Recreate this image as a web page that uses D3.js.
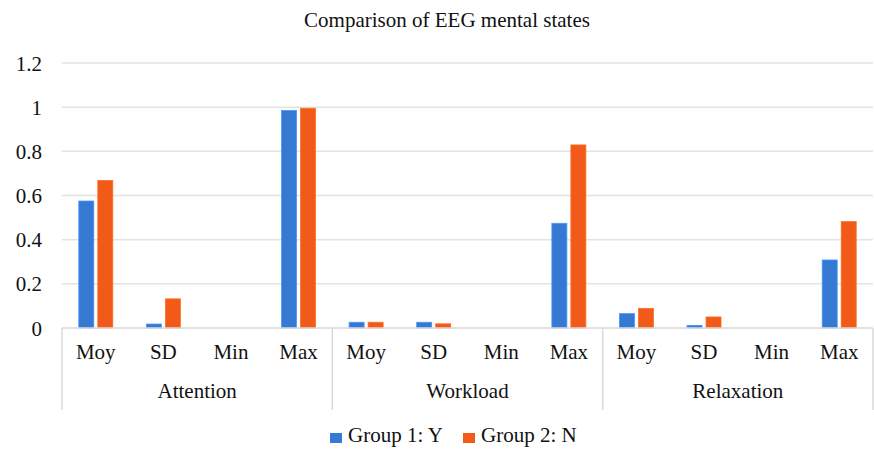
<!DOCTYPE html>
<html>
<head>
<meta charset="utf-8">
<script src="https://cdn.jsdelivr.net/npm/d3@7"></script>
<style>
  html, body { margin: 0; padding: 0; background: #fff; }
</style>
</head>
<body>
<svg id="chart" width="874" height="450"></svg>
<script>
// Mental state groups and the statistics shown within each
const states = ["Attention", "Workload", "Relaxation"];
const stats = ["Moy", "SD", "Min", "Max"];
const seriesNames = ["Group 1: Y", "Group 2: N"];

// Values per state, in stats order
const group1 = [
  [0.575, 0.018, 0, 0.985],   // Attention
  [0.026, 0.026, 0, 0.474],   // Workload
  [0.065, 0.012, 0, 0.308]    // Relaxation
];
const group2 = [
  [0.668, 0.132, 0, 0.995],
  [0.026, 0.019, 0, 0.829],
  [0.089, 0.050, 0, 0.482]
];
const yTicks = [0, 0.2, 0.4, 0.6, 0.8, 1, 1.2];
const colors = ["#3679d3", "#f25a1a"];

const FONT = "Liberation Serif";
const svg = d3.select("#chart");
const plotLeft = 62, plotRight = 873, plotTop = 63, plotBottom = 328;

const y = d3.scaleLinear().domain([0, 1.2]).range([plotBottom, plotTop]);

// one slot per state/stat pair
const keys = [];
states.forEach(s => stats.forEach(st => keys.push(s + "|" + st)));
const x0 = d3.scaleBand().domain(keys).range([plotLeft, plotRight]).padding(0);
const xs = d3.scaleBand().domain(states).range([plotLeft, plotRight]).padding(0);
const bw = x0.bandwidth();
const x1 = d3.scaleBand().domain(seriesNames)
  .range([bw / 2 - 17, bw / 2 + 17]).paddingInner(0.2105);

// shared text helper: every label is a direct child of the svg
function label(x, yy, txt, anchor) {
  return svg.append("text")
    .attr("x", x).attr("y", yy)
    .attr("text-anchor", anchor || "middle")
    .attr("font-family", FONT)
    .style("font-family", "'Liberation Serif', 'Times New Roman', serif")
    .attr("font-size", 21)
    .attr("fill", "#111")
    .text(txt);
}

// gridlines
svg.append("g").selectAll("line")
  .data(yTicks.slice(1)).join("line")
  .attr("x1", plotLeft).attr("x2", plotRight)
  .attr("y1", d => y(d)).attr("y2", d => y(d))
  .attr("stroke", "#e3e3e3").attr("stroke-width", 1.5);

// bars
const rows = [];
states.forEach((s, si) => stats.forEach((st, ti) => {
  rows.push({ key: s + "|" + st, series: seriesNames[0], v: group1[si][ti] });
  rows.push({ key: s + "|" + st, series: seriesNames[1], v: group2[si][ti] });
}));
svg.append("g").selectAll("rect")
  .data(rows.filter(d => d.v > 0)).join("rect")
  .attr("x", d => x0(d.key) + x1(d.series))
  .attr("width", x1.bandwidth())
  .attr("y", d => y(d.v))
  .attr("height", d => y(0) - y(d.v))
  .attr("fill", d => colors[seriesNames.indexOf(d.series)])
  .attr("stroke", d => d3.color(colors[seriesNames.indexOf(d.series)]).brighter(0.6))
  .attr("stroke-width", 0.8);

// baseline
svg.append("line")
  .attr("x1", plotLeft).attr("x2", plotRight)
  .attr("y1", y(0)).attr("y2", y(0))
  .attr("stroke", "#d9d9d9").attr("stroke-width", 1.5);

// group separators
const seps = states.map(s => xs(s)).concat([plotRight]);
svg.append("g").selectAll("line")
  .data(seps).join("line")
  .attr("x1", d => d).attr("x2", d => d)
  .attr("y1", y(0)).attr("y2", 410)
  .attr("stroke", "#d9d9d9").attr("stroke-width", 1.5);

// title
label(447, 27, "Comparison of EEG mental states");

// y tick labels
yTicks.forEach(t => label(42, y(t) + 7.5, String(t), "end"));

// stat labels
keys.forEach(k => label(x0(k) + bw / 2, 359, k.split("|")[1]));

// state labels
states.forEach(s => label(xs(s) + xs.bandwidth() / 2, 398, s));

// legend
const legendX = [330, 463];
seriesNames.forEach((name, i) => {
  svg.append("rect").attr("x", legendX[i]).attr("y", 433)
    .attr("width", 12).attr("height", 10).attr("fill", colors[i]);
  label(legendX[i] + 18, 442, name, "start");
});
</script>
</body>
</html>
